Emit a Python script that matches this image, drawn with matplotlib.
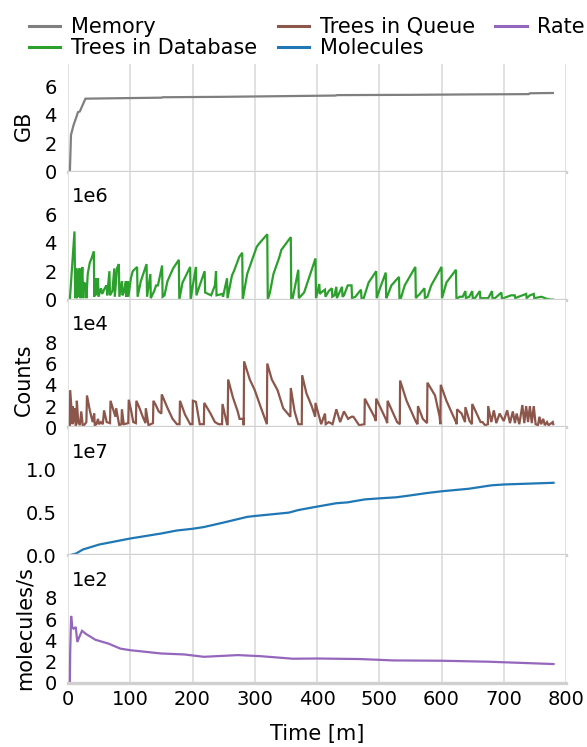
import matplotlib
matplotlib.use('Agg')
import matplotlib.pyplot as plt
import numpy as np

# ---------------- data ----------------
mem_t = [3, 4.8, 9, 13, 16, 19, 28, 60, 150, 152, 250, 350, 430, 432, 550, 650, 740, 742, 779]
mem_gb = [0, 2.6, 3.3, 3.8, 4.2, 4.25, 5.15, 5.17, 5.22, 5.25, 5.28, 5.33, 5.37, 5.4, 5.42, 5.45, 5.47, 5.53, 5.55]

db_t = [3, 10.4, 11.6, 13.4, 14.5, 15.5, 17, 18.5, 20, 21.5, 23, 24.5, 26, 28.7, 29.5, 31.7, 35, 37.8, 40, 41.5,
        42.2, 44, 45.5, 48.2, 49, 53, 55, 59, 62, 63, 66.5, 67.5, 71.3, 74.4, 75.2, 78.7, 81.7, 82.5, 86.6, 87.5,
        89.6, 92.7, 93.5, 95.7, 97, 101, 104, 111, 111.8, 117, 126.2, 127, 132.3, 133, 138.4, 141.5, 144.5, 151.2,
        152, 155, 159.8, 162.8, 168.9, 178, 178.8, 184, 196.3, 197, 200.6, 205.5, 206.3, 211.6, 219.5, 220.3,
        229.9, 236, 237.8, 238.6, 248.2, 249, 255.5, 256.3, 263.4, 266.5, 275, 279.9, 280.7, 287.8, 303, 306.1,
        320.1, 320.9, 324.4, 330, 339.6, 342.7, 357.9, 358.7, 361, 370, 370.8, 379.3, 397.6, 398.4, 403.7, 404.5,
        406.7, 412.8, 413.6, 418.9, 423.8, 424.6, 428, 431.1, 431.9, 440.2, 441, 443.3, 449.4, 455.5, 456.3,
        461.6, 470.7, 471.5, 475, 482.9, 495.1, 495.9, 501.2, 510.4, 511.2, 513.4, 519.5, 531.7, 532.5, 534.8,
        540.9, 558, 558.8, 560.4, 565.2, 572.6, 573.4, 577.4, 583.5, 600, 600.8, 607.9, 623.2, 624, 629.3, 634,
        638.4, 639.2, 644.5, 649.4, 650.2, 653.7, 661.6, 662.4, 665.9, 675, 681.1, 681.9, 686, 696.3, 697.1,
        699.4, 705.5, 711.6, 717.7, 718.5, 723.8, 736, 736.8, 742, 748.2, 749, 754.3, 760.4, 769.5, 775.6, 779]
db_1e6 = [0, 4.8, 0.1, 2.2, 0.1, 2.0, 0.2, 2.2, 0.1, 1.0, 2.3, 0.1, 1.2, 1.0, 0.1, 1.8, 2.6, 2.9, 3.2, 3.4,
          0.2, 1.5, 0.3, 1.5, 0.2, 0.8, 0.4, 0.8, 1.0, 0.3, 2.0, 0.3, 0.6, 2.2, 0.2, 2.2, 2.5, 0.2, 1.3, 0.3,
          0.5, 1.3, 0.2, 1.3, 0.2, 1.5, 2.0, 2.3, 0.2, 1.3, 2.5, 0.2, 1.8, 0.1, 0.6, 1.0, 1.0, 2.4,
          0.2, 0.3, 1.3, 1.6, 2.2, 2.8, 0.0, 1.2, 2.3, 0.0, 1.0, 2.3, 0.3, 1.0, 2.0, 0.5,
          0.3, 1.0, 2.0, 0.3, 0.4, 0.2, 1.5, 0.1, 1.7, 2.0, 3.0, 3.3, 0.0, 1.8, 3.7, 3.9,
          4.6, 0.0, 0.5, 1.8, 3.0, 3.5, 4.4, 0.0, 0.1, 2.1, 0.1, 0.5, 2.9, 0.1, 1.1, 0.4,
          0.5, 0.7, 0.2, 0.6, 0.8, 0.2, 0.3, 0.9, 0.1, 0.9, 0.2, 0.3, 1.0, 1.0, 0.1,
          0.2, 0.7, 0.1, 0.1, 1.2, 2.0, 0.1, 0.8, 1.9, 0.1, 0.3, 1.0, 1.6, 0.0, 0.1,
          1.0, 2.3, 0.1, 0.2, 0.4, 0.8, 0.1, 0.2, 1.0, 2.3, 0.1, 1.2, 2.1, 0.05, 0.2, 0.2,
          0.6, 0.1, 0.2, 0.6, 0.1, 0.1, 0.6, 0.1, 0.1, 0.1, 0.6, 0.1, 0.1, 0.5, 0.0,
          0.1, 0.2, 0.3, 0.3, 0.1, 0.2, 0.4, 0.1, 0.3, 0.4, 0.1, 0.15, 0.2, 0.05, 0.0, 0.0]

q_t = [3, 3.5, 7.3, 7.8, 9.5, 10.4, 12.5, 13.4, 14.2, 16.5, 17.7, 19, 21.3, 23.8, 27, 29.5, 30.5, 35, 39.6,
       42.1, 43, 45.7, 48.2, 50, 53, 56, 57.9, 62.2, 67.5, 68.3, 72, 76.2, 77.4, 82.3, 85.8, 86.6, 89.6, 96.8,
       97.6, 101, 104.9, 109, 109.8, 115, 120.1, 124.5, 125, 129.3, 136.5, 137.2, 141, 145.7, 150, 150.6, 160,
       168, 175, 179.2, 179.9, 188, 196.3, 200, 200.6, 205.5, 211.6, 218.2, 218.9, 228, 236, 242, 247.5, 248.2,
       255.5, 256.5, 257.3, 265, 272.6, 275.6, 281.7, 282.2, 282.9, 292, 300, 309, 318.3, 319.5, 320.1, 327.4,
       336.6, 345.7, 357.2, 357.9, 364, 370, 375.5, 376.2, 383, 391.5, 397, 397.6, 406.7, 412.8, 414, 418.9,
       425, 431.1, 437.2, 443.3, 450, 455.5, 458.5, 467.7, 476.2, 476.8, 492.1, 494.5, 495.1, 510.4, 512.8,
       513.4, 528.7, 533, 533.5, 543.9, 559.1, 561.5, 562.2, 570, 576.8, 577.4, 589.6, 597, 598.2, 598.8, 607.9,
       623.2, 624.5, 625, 632.3, 637.8, 638.4, 645, 648.8, 649.4, 662.8, 665.9, 670, 674.5, 675, 680, 684.1,
       688, 693.3, 700, 705.5, 710, 714.6, 718, 720.7, 725, 729.9, 733, 736, 739, 742, 745, 748.2, 751.2, 755,
       757.3, 760, 763.4, 766, 769.5, 772, 778.7, 779.5]
q_1e4 = [0, 3.5, 0.3, 2.0, 0.5, 1.8, 0.1, 0.3, 2.5, 0.4, 0.5, 0.2, 1.5, 0.1, 0.3, 0.5, 3.0, 1.6, 0.5,
         1.3, 0.2, 0.3, 0.8, 0.3, 0.5, 0.3, 1.6, 0.5, 0.4, 2.5, 1.8, 1.0, 1.8, 0.2, 0.3, 1.7, 0.3, 0.4,
         2.6, 1.7, 0.5, 0.4, 2.5, 1.8, 1.0, 0.4, 1.8, 0.2, 0.4, 2.5, 2.1, 1.5, 1.3, 3.1, 1.8,
         0.8, 0.3, 0.3, 2.5, 1.2, 0.3, 0.3, 2.5, 2.4, 0.3, 0.3, 2.3, 1.4, 0.5, 0.3, 0.3, 2.2,
         0.3, 0.3, 4.5, 2.8, 1.5, 0.8, 0.8, 0.2, 6.2, 4.5, 3.5, 2.0, 0.5, 0.3, 6.0, 4.5,
         3.5, 1.8, 1.0, 3.7, 1.5, 0.3, 0.3, 4.9, 3.2, 2.0, 1.0, 2.3, 0.3, 1.3, 0.3, 0.5,
         0.3, 1.7, 0.5, 1.5, 0.8, 1.0, 1.0, 0.2, 0.3, 2.7, 1.0, 0.6, 2.7, 0.8, 0.4,
         2.5, 0.5, 0.3, 4.4, 2.5, 0.5, 0.3, 2.0, 0.8, 0.4, 4.2, 3.0, 1.0, 0.3, 4.0, 2.5,
         0.5, 0.3, 1.7, 1.3, 0.5, 1.9, 0.6, 0.3, 2.2, 0.5, 0.5, 0.2, 0.3, 2.0, 0.5, 1.6,
         0.4, 1.3, 0.6, 1.6, 0.4, 1.5, 0.4, 1.3, 0.3, 2.1, 0.4, 2.0, 0.5, 2.0, 0.4, 2.0, 0.3, 0.2,
         1.0, 0.3, 0.8, 0.2, 0.5, 0.2, 0.5, 0.3]

mol_t = [3, 13, 24, 50, 100, 150, 175, 200, 218, 248, 288, 300, 355, 370, 400, 431, 449, 477, 500,
         528, 553, 577, 600, 644, 680, 700, 780]
mol_1e7 = [0, 0.02, 0.067, 0.125, 0.196, 0.255, 0.29, 0.31, 0.33, 0.38, 0.45, 0.46, 0.50, 0.53, 0.57,
           0.61, 0.62, 0.655, 0.667, 0.68, 0.705, 0.73, 0.75, 0.78, 0.82, 0.83, 0.85]

rate_t = [3, 3.5, 5, 7, 9, 11, 12.5, 15, 18, 22.5, 29, 44, 65, 84, 100, 150, 187, 218, 273, 309, 361,
          400, 468, 523, 600, 675, 780]
rate_1e2 = [0, 2.9, 6.3, 5.2, 5.1, 5.2, 5.2, 3.85, 4.3, 4.9, 4.6, 4.06, 3.7, 3.23, 3.08, 2.77, 2.68, 2.46,
            2.62, 2.52, 2.28, 2.3, 2.25, 2.12, 2.09, 2.0, 1.78]

labels = ["Memory", "Trees in Database", "Trees in Queue", "Molecules", "Rate"]
colors = ["#7f7f7f", "#2ca02c", "#8c564b", "#1f77b4", "#9467bd"]
yticks = [[0, 2, 4, 6], [0, 2, 4, 6], [0, 2, 4, 6, 8], [0.0, 0.5, 1.0], [0, 2, 4, 6, 8]]
ytick_labels = [["0", "2", "4", "6"], ["0", "2", "4", "6"], ["0", "2", "4", "6", "8"],
                ["0.0", "0.5", "1.0"], ["0", "2", "4", "6", "8"]]
ylims = [9, 9, 12, 1.5, 12]
offsets = [None, "1e6", "1e4", "1e7", "1e2"]
ylabels = ["GB", None, "Counts", None, "molecules/s"]
ylabel_pos = [0.36, None, 0.37, None, 0.43]
xticks = [0, 100, 200, 300, 400, 500, 600, 700, 800]

series = [(mem_t, mem_gb), (db_t, db_1e6), (q_t, q_1e4), (mol_t, mol_1e7), (rate_t, rate_1e2)]

# ---------------- figure ----------------
W, H = 587, 747
fig = plt.figure(figsize=(W / 100, H / 100), dpi=100)
left_px, right_px = 68, 566
top_px, bot_px = 44, 683
h_px = (bot_px - top_px) / 5

tick_fs = 14
label_fs = 15
handles = []
axes = []
for i in range(5):
    top = top_px + i * h_px
    ax = fig.add_axes([left_px / W, 1 - (top + h_px) / H, (right_px - left_px) / W, h_px / H])
    axes.append(ax)
    t, v = series[i]
    ln, = ax.plot(t, v, color=colors[i], lw=1.6, label=labels[i], solid_joinstyle='miter')
    handles.append(ln)
    ax.set_xlim(0, 800)
    ax.set_ylim(0, ylims[i])
    ax.set_yticks(yticks[i])
    ax.set_yticklabels(ytick_labels[i])
    ax.set_xticks(xticks)
    ax.grid(axis='x', color='#dcdcdc', lw=1.2)
    ax.grid(axis='y', visible=False)
    ax.set_axisbelow(True)
    for s in ['left', 'right', 'top']:
        ax.spines[s].set_visible(False)
    ax.spines['bottom'].set_color('#d0d0d0')
    ax.spines['bottom'].set_linewidth(2.4)
    ax.tick_params(axis='both', length=0, labelsize=tick_fs)
    ax.tick_params(axis='y', pad=8)
    ax.tick_params(axis='x', pad=5)
    if i < 4:
        ax.tick_params(axis='x', labelbottom=False)
    if offsets[i]:
        ax.text(0.008, 1 - 25 / h_px, offsets[i], transform=ax.transAxes,
                ha='left', va='center', fontsize=tick_fs)
    if ylabels[i]:
        ax.set_ylabel(ylabels[i], fontsize=label_fs)
        ax.yaxis.set_label_coords(-0.068, ylabel_pos[i])
    ax.set_facecolor('white')

axes[-1].set_xlabel("Time [m]", fontsize=label_fs, labelpad=11)

leg = fig.legend(handles=handles, labels=labels, ncol=3, loc='upper center',
                 bbox_to_anchor=(0.523, 0.994), fontsize=label_fs, frameon=True,
                 handlelength=1.5, handletextpad=0.5, columnspacing=1.0,
                 labelspacing=0.05, borderaxespad=0.3, borderpad=0.3)
leg.get_frame().set_facecolor('white')
leg.get_frame().set_edgecolor('none')
leg.get_frame().set_alpha(1)
for lh in leg.get_lines():
    lh.set_linewidth(2.2)

fig.savefig("out.png", dpi=100)
